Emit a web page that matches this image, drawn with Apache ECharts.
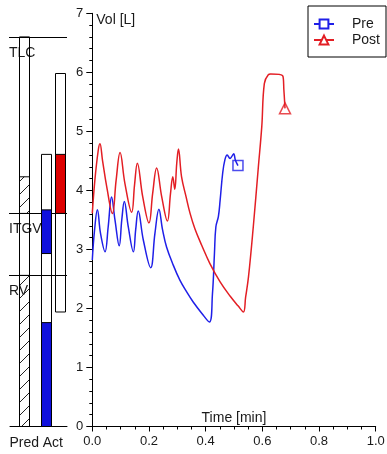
<!DOCTYPE html>
<html>
<head>
<meta charset="utf-8">
<script src="https://cdn.jsdelivr.net/npm/echarts@6/dist/echarts.min.js"></script>
<style>
  html, body { margin: 0; padding: 0; background: #fff; }
  #chart { width: 387px; height: 454px; }
</style>
</head>
<body>
<div id="chart"></div>
<script>
// time [min] and volume [L] of the two traces
var preTime = [0.000, 0.008, 0.018, 0.029, 0.045, 0.056, 0.068, 0.080, 0.095, 0.104, 0.113, 0.127,
  0.145, 0.153, 0.162, 0.180, 0.206, 0.221, 0.235, 0.248, 0.262, 0.286, 0.309, 0.333, 0.356,
  0.386, 0.413, 0.424, 0.431, 0.436, 0.445, 0.451, 0.460, 0.468, 0.476, 0.486, 0.493, 0.499,
  0.505, 0.514];
var preVol = [2.82, 3.33, 3.67, 3.27, 2.96, 3.38, 3.89, 3.50, 3.06, 3.50, 3.81, 3.38,
  2.96, 3.33, 3.65, 3.16, 2.69, 3.27, 3.68, 3.33, 3.04, 2.73, 2.48, 2.28, 2.11,
  1.92, 1.77, 2.25, 2.93, 3.38, 3.56, 3.83, 4.29, 4.52, 4.60, 4.54, 4.58, 4.62,
  4.51, 4.42];
var postTime = [0.000, 0.009, 0.021, 0.027, 0.036, 0.051, 0.071, 0.084, 0.098, 0.115, 0.139, 0.149,
  0.159, 0.178, 0.200, 0.213, 0.227, 0.245, 0.265, 0.276, 0.284, 0.291, 0.298, 0.304,
  0.315, 0.331, 0.345, 0.362, 0.386, 0.415, 0.451, 0.486, 0.515, 0.533, 0.541, 0.551,
  0.568, 0.586, 0.598, 0.607, 0.621, 0.629, 0.672, 0.676, 0.680];
var postVol = [3.61, 4.17, 4.68, 4.79, 4.51, 4.06, 3.61, 4.17, 4.64, 4.12, 3.63, 4.09,
  4.46, 3.89, 3.45, 3.95, 4.38, 3.89, 3.48, 3.95, 4.23, 4.02, 4.46, 4.70,
  4.23, 3.89, 3.61, 3.35, 3.07, 2.76, 2.45, 2.21, 2.04, 1.94, 2.19, 2.53,
  3.38, 4.40, 5.08, 5.81, 5.96, 5.97, 5.94, 5.70, 5.39];

// left panel: reference levels and bars
var barCategories = ['Pred', 'Act'];
var refNames = ['TLC', 'ITGV', 'RV'];
var refValues = [6.60, 3.61, 2.56];
var predRange = [0, 6.60];
var predHatched = [[0, 2.56], [3.61, 4.23]];
var preRange = [0, 4.61];
var preFilled = [[0, 1.76], [2.93, 3.67]];
var postRange = [1.94, 5.98];
var postFilled = [[3.61, 4.61]];

var xTicks = { min: 0, max: 1, interval: 0.2, minorSplit: 4 };
var yTicks = { min: 0, max: 7, interval: 1, minorSplit: 5 };

var BLUE = '#1f1fe8';
var RED = '#e31e24';
var TXT = '#1a1a1a';

function zip(a, b) {
  return a.map(function (v, i) { return [v, b[i]]; });
}

// diagonal hatch tile
function hatchPattern() {
  var c = document.createElement('canvas');
  c.width = 10; c.height = 13;
  var g = c.getContext('2d');
  g.strokeStyle = '#222';
  g.lineWidth = 1;
  g.beginPath();
  g.moveTo(0, 12);
  g.lineTo(10, 2);
  g.stroke();
  return { image: c, repeat: 'repeat' };
}

function barSeries(cat, dx, range, parts, fill) {
  var data = [[cat, range[0], range[1], 0]].concat(parts.map(function (p) {
    return [cat, p[0], p[1], 1];
  }));
  return {
    type: 'custom',
    xAxisIndex: 1,
    yAxisIndex: 1,
    silent: true,
    z: 3,
    data: data,
    renderItem: function (params, api) {
      var lo = api.coord([api.value(0), api.value(1)]);
      var hi = api.coord([api.value(0), api.value(2)]);
      var w = 10;
      var isPart = api.value(3) === 1;
      return {
        type: 'rect',
        z2: isPart ? 2 : 1,
        shape: { x: Math.round(lo[0] + dx - w / 2) + 0.5, y: hi[1], width: w, height: lo[1] - hi[1] },
        style: { fill: isPart ? fill : 'none', stroke: '#000', lineWidth: 1 }
      };
    }
  };
}

var chart = echarts.init(document.getElementById('chart'));

var option = {
  animation: false,
  backgroundColor: '#fff',
  textStyle: { fontFamily: 'Liberation Sans, Arial, sans-serif' },
  grid: [
    { left: 92.3, right: 11.3, top: 13.3, bottom: 27.5, outerBoundsMode: 'none', containLabel: false },
    { left: 10, width: 57, top: 13.3, bottom: 27.5, outerBoundsMode: 'none', containLabel: false }
  ],
  legend: {
    data: ['Pre', 'Post'],
    orient: 'vertical',
    left: 308,
    top: 6,
    padding: [11, 6, 10, 5],
    itemWidth: 20,
    itemHeight: 11,
    itemGap: 2,
    borderColor: '#000',
    borderWidth: 1,
    backgroundColor: '#fff',
    textStyle: { fontSize: 14, color: TXT, padding: [0, 0, 0, 13] }
  },
  xAxis: [
    {
      type: 'value',
      gridIndex: 0,
      position: 'bottom',
      min: xTicks.min,
      max: xTicks.max,
      interval: xTicks.interval,
      name: 'Time [min]',
      nameLocation: 'middle',
      nameGap: -15,
      nameMoveOverlap: false,
      nameTextStyle: { fontSize: 14, color: TXT },
      axisLine: { show: true, onZero: false, lineStyle: { color: '#000', width: 1 } },
      axisTick: { show: true, length: 5, lineStyle: { color: '#000', width: 1 } },
      minorTick: { show: true, splitNumber: xTicks.minorSplit, length: 3, lineStyle: { color: '#000', width: 1 } },
      splitLine: { show: false },
      minorSplitLine: { show: false },
      axisLabel: {
        fontSize: 13, color: TXT, margin: 8,
        formatter: function (v) { return v.toFixed(1); }
      }
    },
    {
      type: 'category',
      gridIndex: 1,
      data: barCategories,
      axisLine: { show: true, lineStyle: { color: '#000', width: 1 } },
      axisTick: { show: false },
      axisLabel: { fontSize: 14, color: TXT, margin: 10, interval: 0 }
    }
  ],
  yAxis: [
    {
      type: 'value',
      gridIndex: 0,
      position: 'left',
      min: yTicks.min,
      max: yTicks.max,
      interval: yTicks.interval,
      name: 'Vol [L]',
      nameLocation: 'end',
      nameGap: -7,
      nameMoveOverlap: false,
      nameTextStyle: { fontSize: 14, color: TXT, align: 'left', verticalAlign: 'middle', padding: [0, 0, 0, 4] },
      axisLine: { show: true, onZero: false, lineStyle: { color: '#000', width: 1 } },
      axisTick: { show: true, length: 6, lineStyle: { color: '#000', width: 1 } },
      minorTick: { show: true, splitNumber: yTicks.minorSplit, length: 3, lineStyle: { color: '#000', width: 1 } },
      splitLine: { show: false },
      minorSplitLine: { show: false },
      axisLabel: { fontSize: 13, color: TXT, margin: 9 }
    },
    {
      type: 'value',
      gridIndex: 1,
      min: yTicks.min,
      max: yTicks.max,
      show: false
    }
  ],
  series: [
    {
      name: 'Pre',
      type: 'line',
      data: zip(preTime, preVol),
      smooth: 0.4,
      symbol: 'emptyRect',
      showSymbol: false,
      lineStyle: { color: BLUE, width: 1.5 },
      itemStyle: { color: BLUE }
    },
    {
      name: 'Post',
      type: 'line',
      data: zip(postTime, postVol),
      smooth: 0.4,
      symbol: 'emptyTriangle',
      showSymbol: false,
      lineStyle: { color: RED, width: 1.5 },
      itemStyle: { color: RED }
    },
    {
      name: 'preEnd',
      type: 'scatter',
      data: [[preTime[preTime.length - 1], preVol[preVol.length - 1]]],
      symbol: 'rect',
      symbolSize: 10,
      itemStyle: { color: 'rgba(0,0,0,0)', borderColor: BLUE, borderWidth: 1.5 }
    },
    {
      name: 'postEnd',
      type: 'scatter',
      data: [[postTime[postTime.length - 1], postVol[postVol.length - 1]]],
      symbol: 'triangle',
      symbolSize: 11,
      itemStyle: { color: '#fff', borderColor: RED, borderWidth: 1.5 }
    },
    {
      // reference lines with their labels
      type: 'custom',
      xAxisIndex: 1,
      yAxisIndex: 1,
      silent: true,
      z: 2,
      data: refValues.map(function (v) { return [0, v]; }),
      renderItem: function (params, api) {
        var cs = params.coordSys;
        var y = Math.round(api.coord([0, api.value(1)])[1]) + 0.5;
        return {
          type: 'group',
          children: [
            {
              type: 'line',
              shape: { x1: cs.x - 1, y1: y, x2: cs.x + cs.width, y2: y },
              style: { stroke: '#000', lineWidth: 1 }
            },
            {
              type: 'text',
              style: {
                text: refNames[params.dataIndex],
                x: cs.x - 1, y: y + 9,
                fill: TXT,
                font: '14px "Liberation Sans", Arial, sans-serif',
                textAlign: 'left', textVerticalAlign: 'top'
              }
            }
          ]
        };
      }
    },
    barSeries(0, 0, predRange, predHatched, hatchPattern()),
    barSeries(1, -7, preRange, preFilled, '#1010dd'),
    barSeries(1, 7, postRange, postFilled, '#dd0000')
  ]
};

chart.setOption(option);
</script>
</body>
</html>
